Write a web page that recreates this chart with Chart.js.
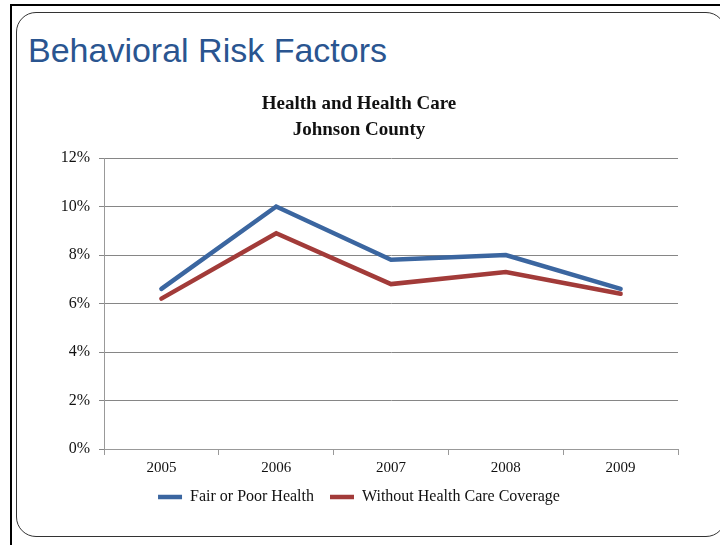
<!DOCTYPE html>
<html>
<head>
<meta charset="utf-8">
<script src="https://cdn.jsdelivr.net/npm/chart.js@4"></script>
<style>
  html, body { margin: 0; padding: 0; background: #fff; }
  #slide { position: relative; width: 720px; height: 545px; overflow: hidden; }
  /* slide frame: black edge top/left plus the rounded panel */
  .edge-top { position: absolute; left: 10px; top: 4px; width: 720px; height: 2px; background: #000; }
  .edge-left { position: absolute; left: 10px; top: 4px; width: 2px; height: 560px; background: #000; }
  .panel { position: absolute; left: 16px; top: 12px; width: 710px; height: 525px;
           border: 1.5px solid #333; border-radius: 20px; box-sizing: border-box; }
  .slide-title { position: absolute; left: 28px; top: 31px; font-family: "Liberation Sans", Arial, sans-serif;
                 font-size: 34px; color: #2a5590; white-space: nowrap; }
  #wrap { position: absolute; left: 0; top: 0; width: 720px; height: 545px; }
</style>
</head>
<body>
<div id="slide">
  <div class="edge-top"></div>
  <div class="edge-left"></div>
  <div class="panel"></div>
  <div class="slide-title">Behavioral Risk Factors</div>
  <div id="wrap"><canvas id="riskChart"></canvas></div>
</div>
<script>
// 数据：年份与两条指标（百分比）
const years = ['2005', '2006', '2007', '2008', '2009'];
const fairPoorHealth = [6.6, 10.0, 7.8, 8.0, 6.6];
const noCoverage = [6.2, 8.9, 6.8, 7.3, 6.4];
const yTicks = [0, 2, 4, 6, 8, 10, 12];

const serif = '"Liberation Serif", "Times New Roman", serif';

document.addEventListener('DOMContentLoaded', function() {
  const ctx = document.getElementById('riskChart');
  new Chart(ctx, {
    type: 'line',
    data: {
      labels: years,
      datasets: [
        {
          label: 'Fair or Poor Health',
          data: fairPoorHealth,
          borderColor: '#3b66a0',
          backgroundColor: '#3b66a0',
          borderWidth: 4.5,
          borderCapStyle: 'round',
          pointRadius: 0,
          tension: 0
        },
        {
          label: 'Without Health Care Coverage',
          data: noCoverage,
          borderColor: '#a23b39',
          backgroundColor: '#a23b39',
          borderWidth: 4.5,
          borderCapStyle: 'round',
          pointRadius: 0,
          tension: 0
        }
      ]
    },
    options: {
      responsive: true,
      maintainAspectRatio: false,
      animation: false,
      layout: { padding: { left: 40, right: 42, top: 80, bottom: 30 } },
      plugins: {
        title: {
          display: true,
          text: ['Health and Health Care', 'Johnson County'],
          color: '#111',
          font: { family: serif, size: 19, weight: 'bold', lineHeight: '26px' },
          padding: { top: 11, bottom: 15 }
        },
        legend: {
          position: 'bottom',
          labels: {
            color: '#111',
            font: { family: serif, size: 16 },
            usePointStyle: true,
            pointStyle: 'line',
            pointStyleWidth: 24,
            padding: 16
          }
        },
        tooltip: { enabled: false }
      },
      scales: {
        x: {
          offset: true,
          grid: { display: true, offset: true, drawOnChartArea: false, tickLength: 6, color: '#999' },
          border: { color: '#999' },
          ticks: { color: '#111', font: { family: serif, size: 15 }, padding: 4 },
          afterFit: function(scale) { scale.height = 24; }
        },
        y: {
          min: 0,
          max: 12,
          afterBuildTicks: function(scale) {
            scale.ticks = yTicks.map(v => ({ value: v }));
          },
          grid: { color: '#868686', tickLength: 5 },
          border: { color: '#999' },
          ticks: {
            color: '#111',
            font: { family: serif, size: 16 },
            padding: 9,
            callback: v => v + '%'
          },
          afterFit: function(scale) { scale.width = 64; }
        }
      }
    }
  });
});
</script>
</body>
</html>
